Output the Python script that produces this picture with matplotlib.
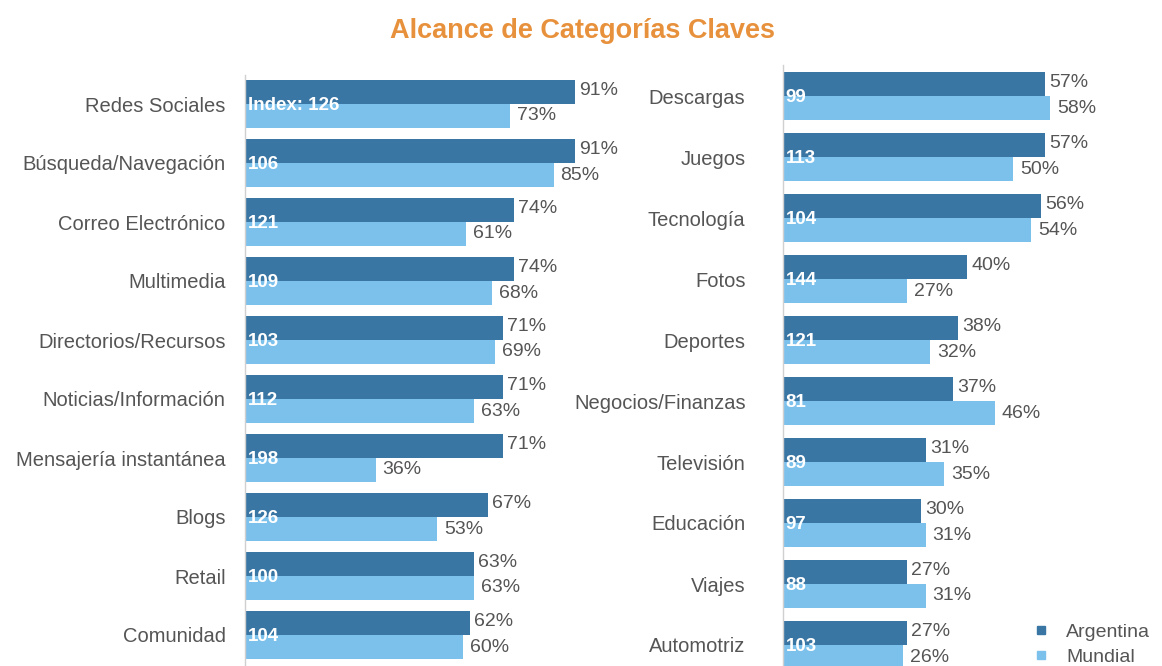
import matplotlib
matplotlib.use("Agg")
import matplotlib.pyplot as plt
from matplotlib.lines import Line2D
import numpy as np

plt.rcParams['font.family'] = ['Liberation Sans', 'DejaVu Sans']

# ---- data ----
left_categories = ["Redes Sociales", "Búsqueda/Navegación", "Correo Electrónico", "Multimedia",
                   "Directorios/Recursos", "Noticias/Información", "Mensajería instantánea",
                   "Blogs", "Retail", "Comunidad"]
left_argentina = [91, 91, 74, 74, 71, 71, 71, 67, 63, 62]
left_mundial = [73, 85, 61, 68, 69, 63, 36, 53, 63, 60]
left_index = ["Index: 126", "106", "121", "109", "103", "112", "198", "126", "100", "104"]

right_categories = ["Descargas", "Juegos", "Tecnología", "Fotos", "Deportes",
                    "Negocios/Finanzas", "Televisión", "Educación", "Viajes", "Automotriz"]
right_argentina = [57, 57, 56, 40, 38, 37, 31, 30, 27, 27]
right_mundial = [58, 50, 54, 27, 32, 46, 35, 31, 31, 26]
right_index = ["99", "113", "104", "144", "121", "81", "89", "97", "88", "103"]

series_names = ["Argentina", "Mundial"]

DARK = "#3a76a4"
LIGHT = "#7cc1ec"
TEXT = "#555555"
W, H = 1162, 666

fig = plt.figure(figsize=(W / 100, H / 100), dpi=100)
fig.patch.set_facecolor("white")

fig.text(583 / W, 1 - 31 / H, "Alcance de Categorías Claves", ha="center", va="center",
         fontsize=19.5, fontweight="bold", color="#e8913c")


def panel(rect, cats, arg, mun, idx, xmax, ylim, bh, labelpad):
    ax = fig.add_axes(rect)
    y = np.arange(len(cats))
    ax.barh(y - bh / 2, arg, height=bh, color=DARK, edgecolor="none")
    ax.barh(y + bh / 2, mun, height=bh, color=LIGHT, edgecolor="none")
    ax.set_xlim(0, xmax)
    ax.set_ylim(*ylim)
    ax.set_yticks(y)
    ax.set_yticklabels(cats, fontsize=14.5, color=TEXT)
    ax.tick_params(axis="y", length=0, pad=labelpad)
    ax.set_xticks([])
    for s in ["top", "right", "bottom"]:
        ax.spines[s].set_visible(False)
    ax.spines["left"].set_color("#d0d0d0")
    ax.spines["left"].set_linewidth(1.0)
    for i in range(len(cats)):
        ax.annotate(f"{arg[i]}%", (arg[i], y[i] - bh / 2), xytext=(3, 1), textcoords="offset points",
                    ha="left", va="center", fontsize=14, color=TEXT)
        ax.annotate(f"{mun[i]}%", (mun[i], y[i] + bh / 2), xytext=(5, 0), textcoords="offset points",
                    ha="left", va="center", fontsize=14, color=TEXT)
        ax.annotate(idx[i], (0, y[i] + 0.03), xytext=(2, 0), textcoords="offset points",
                    ha="left", va="center", fontsize=13.5, fontweight="bold", color="white")
    return ax


# left panel: x from 245px, 3.63 px per %
lx0 = 245
lxmax = 110
panel([lx0 / W, 0, lxmax * 3.63 / W, 1 - 75 / H], left_categories, left_argentina, left_mundial,
      left_index, lxmax, ((666 - 104) / 59, (75 - 104) / 59), 24 / 59, 14)

# right panel: x from 783px, 4.6 px per %
rx0 = 783
rxmax = 80
panel([rx0 / W, 0, rxmax * 4.6 / W, 1 - 65 / H], right_categories, right_argentina, right_mundial,
      right_index, rxmax, ((666 - 96) / 61, (65 - 96) / 61), 24 / 61, 27)

handles = [Line2D([], [], marker="s", linestyle="none", markersize=6, color=DARK),
           Line2D([], [], marker="s", linestyle="none", markersize=6, color=LIGHT)]
fig.legend(handles, series_names, loc="lower right", bbox_to_anchor=(1 - 2 / W, -0.014),
           frameon=False, fontsize=14, handletextpad=0.3, labelspacing=0.35,
           labelcolor=TEXT, borderaxespad=0.1)

fig.savefig("out.png", dpi=100, facecolor="white")
